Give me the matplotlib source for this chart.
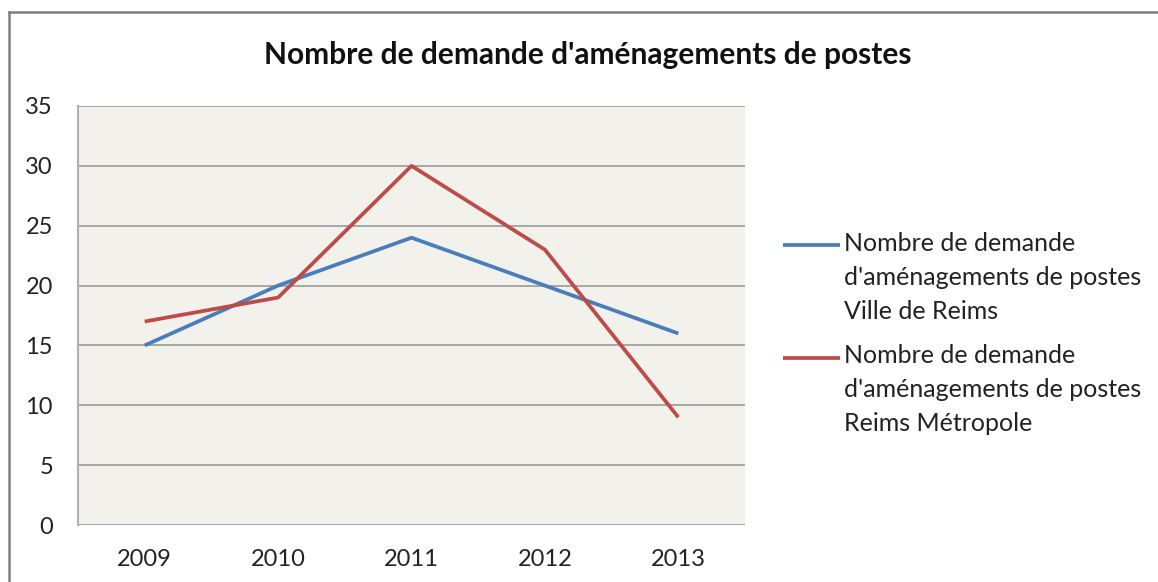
import matplotlib.pyplot as plt
from matplotlib.legend_handler import HandlerLine2D

# data
years = ['2009', '2010', '2011', '2012', '2013']
ville_reims = [15, 20, 24, 20, 16]
reims_metropole = [17, 19, 30, 23, 9]
labels = ["Nombre de demande\nd'aménagements de postes\nVille de Reims",
          "Nombre de demande\nd'aménagements de postes\nReims Métropole"]

plt.rcParams['font.family'] = ['Lato', 'DejaVu Sans']

LEG_FS = 18
LEG_LS = 1.58
LINE_STEP = 33 * 72 / 100  # one text line in points


class TopLine(HandlerLine2D):
    # put the legend line next to the first text line instead of the middle
    def create_artists(self, legend, orig_handle, xdescent, ydescent, width,
                       height, fontsize, trans):
        arts = super().create_artists(legend, orig_handle, xdescent, ydescent,
                                      width, height, fontsize, trans)
        for a in arts:
            a.set_ydata([y + LINE_STEP for y in a.get_ydata()])
        return arts


W, H = 1158, 582
fig = plt.figure(figsize=(W / 100, H / 100), dpi=100)

# plot area in pixels: left 78, right 745, top 106, bottom 525
ax = fig.add_axes([78 / W, 1 - 525 / H, (745 - 78) / W, (525 - 106) / H])
ax.set_facecolor('#F2F1EC')

x = range(len(years))
l1, = ax.plot(x, ville_reims, color='#4A7EBB', lw=2.7, label=labels[0], solid_capstyle='butt')
l2, = ax.plot(x, reims_metropole, color='#BE4B48', lw=2.7, label=labels[1], solid_capstyle='butt')

ax.set_xlim(-0.5, len(years) - 0.5)
ax.set_ylim(0, 35)
ax.set_yticks(range(0, 36, 5))
ax.set_xticks(list(x))
ax.set_xticklabels(years)
ax.yaxis.grid(True, color='#9A9A9A', lw=1.2)
ax.set_axisbelow(True)
ax.tick_params(length=0, labelsize=17, colors='#222222')
ax.tick_params(axis='y', pad=18)
ax.tick_params(axis='x', pad=17)
for s in ['top', 'right', 'bottom']:
    ax.spines[s].set_visible(False)
ax.spines['left'].set_color('#B0B0B0')
ax.spines['left'].set_linewidth(1.5)

fig.text(588 / W, 1 - 55 / H, "Nombre de demande d'aménagements de postes",
         ha='center', va='center', fontsize=21.5, fontweight='bold', color='#111111')

leg = ax.legend(handler_map={l1: TopLine(), l2: TopLine()},
                loc='upper left', bbox_to_anchor=(783 / W, 1 - 232 / H),
                bbox_transform=fig.transFigure, frameon=False, fontsize=LEG_FS,
                handlelength=2.28, handletextpad=0.15, labelspacing=0.85,
                borderpad=0, borderaxespad=0)
for t in leg.get_texts():
    t.set_color('#222222')
    t.set_linespacing(LEG_LS)

# outer chart border (only top and left visible in the crop)
fig.add_artist(plt.Line2D([9 / W, 1], [1 - 12 / H, 1 - 12 / H], color='#7F7F7F', lw=1.8))
fig.add_artist(plt.Line2D([9 / W, 9 / W], [0, 1 - 12 / H], color='#7F7F7F', lw=1.8))

fig.savefig('out.png', dpi=100)
